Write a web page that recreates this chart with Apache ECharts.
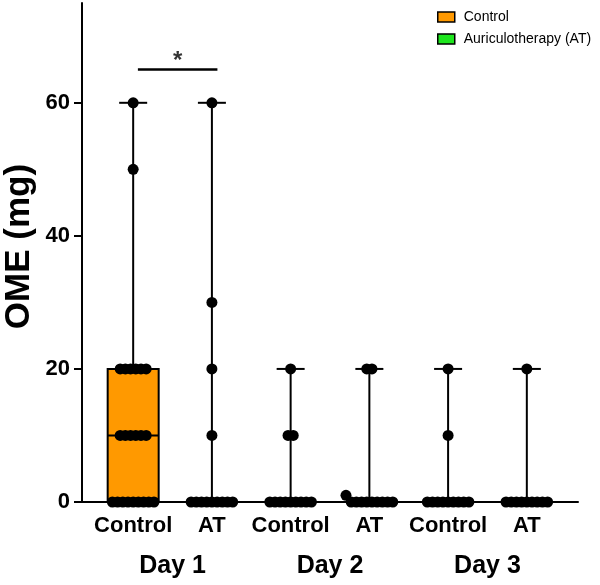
<!DOCTYPE html>
<html>
<head>
<meta charset="utf-8">
<script src="https://cdn.jsdelivr.net/npm/echarts@6/dist/echarts.min.js"></script>
<style>
  html, body { margin: 0; padding: 0; background: #fff; }
  #main { width: 600px; height: 585px; }
</style>
</head>
<body>
<div id="main"></div>
<script>
var groupLabels = ['Control', 'AT', 'Control', 'AT', 'Control', 'AT'];
var dayLabels = ['Day 1', 'Day 2', 'Day 3'];
var yTicks = [0, 20, 40, 60];

// individual values per group
var d1Control = [60, 50, 20, 20, 20, 20, 20, 20, 10, 10, 10, 10, 10, 10, 0, 0, 0, 0, 0, 0, 0, 0, 0];
var d1AT = [60, 30, 20, 10, 0, 0, 0, 0, 0, 0, 0, 0, 0];
var d2Control = [20, 10, 10, 0, 0, 0, 0, 0, 0, 0, 0, 0];
var d2AT = [20, 20, 1, 0, 0, 0, 0, 0, 0, 0, 0, 0];
var d3Control = [20, 10, 0, 0, 0, 0, 0, 0, 0, 0, 0];
var d3AT = [20, 0, 0, 0, 0, 0, 0, 0, 0, 0];
var groupValues = [d1Control, d1AT, d2Control, d2AT, d3Control, d3AT];

// box stats: min, q1, median, q3, max
var boxMin = [0, 0, 0, 0, 0, 0];
var boxQ1 = [0, 0, 0, 0, 0, 0];
var boxMedian = [10, 0, 0, 0, 0, 0];
var boxQ3 = [20, 0, 0, 0, 0, 0];
var boxMax = [60, 60, 20, 20, 20, 20];

// significance bar between Day 1 groups
var sigLine = [[0.06, 65], [1.07, 65]];
var sigLabel = '*';

var font = '"Liberation Sans", Arial, Helvetica, sans-serif';
var orange = '#ff9900';
var green = '#1ee61e';

var controlBoxes = [], atBoxes = [];
for (var i = 0; i < groupLabels.length; i++) {
    var row = [i, boxMin[i], boxQ1[i], boxMedian[i], boxQ3[i], boxMax[i]];
    if (i % 2 === 0) controlBoxes.push(row); else atBoxes.push(row);
}

// simple swarm: spread points of similar value sideways
var step = 0.066;
var dots = [];
groupValues.forEach(function (vals, gi) {
    var rows = {};
    vals.forEach(function (v) {
        var k = Math.round(v / 3);
        (rows[k] = rows[k] || []).push(v);
    });
    Object.keys(rows).forEach(function (k) {
        var r = rows[k].slice().sort(function (a, b) { return b - a; });
        r.forEach(function (v, j) {
            dots.push([gi + (j - (r.length - 1) / 2) * step, v]);
        });
    });
});

function renderBox(color) {
    return function (params, api) {
        var x = api.value(0);
        var mn = api.coord([x, api.value(1)]);
        var q1 = api.coord([x, api.value(2)]);
        var md = api.coord([x, api.value(3)]);
        var q3 = api.coord([x, api.value(4)]);
        var mx = api.coord([x, api.value(5)]);
        var hw = 25.5, cw = 14;
        var ls = { stroke: '#000', lineWidth: 2 };
        var children = [];
        if (q1[1] - q3[1] > 0.5) {
            children.push({ type: 'rect', shape: { x: q3[0] - hw, y: q3[1], width: hw * 2, height: q1[1] - q3[1] },
                style: { fill: color, stroke: '#000', lineWidth: 2 } });
            children.push({ type: 'line', shape: { x1: md[0] - hw, y1: md[1], x2: md[0] + hw, y2: md[1] }, style: ls });
        }
        children.push({ type: 'line', shape: { x1: q3[0], y1: q3[1], x2: mx[0], y2: mx[1] }, style: ls });
        children.push({ type: 'line', shape: { x1: mn[0], y1: mn[1], x2: q1[0], y2: q1[1] }, style: ls });
        children.push({ type: 'line', shape: { x1: mx[0] - cw, y1: mx[1], x2: mx[0] + cw, y2: mx[1] }, style: ls });
        return { type: 'group', children: children };
    };
}

var myChart = echarts.init(document.getElementById('main'));

var option = {
    animation: false,
    textStyle: { fontFamily: font },
    grid: { left: 82, right: 22, top: 3, bottom: 83, containLabel: false, outerBoundsMode: 'none' },
    legend: {
        orient: 'vertical',
        left: 432,
        top: 5,
        itemWidth: 17,
        itemHeight: 10,
        itemGap: 8,
        textStyle: { fontSize: 14, color: '#000', fontFamily: font, padding: [0, 0, 0, 4] },
        data: [
            { name: 'Control', icon: 'rect', itemStyle: { color: orange, borderColor: '#000', borderWidth: 1.5 } },
            { name: 'Auriculotherapy (AT)', icon: 'rect', itemStyle: { color: green, borderColor: '#000', borderWidth: 1.5 } }
        ]
    },
    xAxis: [
        {
            type: 'value',
            min: -0.65,
            max: 5.65,
            splitLine: { show: false },
            axisLine: { lineStyle: { color: '#000', width: 2 } },
            axisTick: { show: true, length: 4, customValues: [0, 1, 2, 3, 4, 5], lineStyle: { color: '#000', width: 2 } },
            axisLabel: {
                customValues: [0, 1, 2, 3, 4, 5],
                formatter: function (v) { return groupLabels[Math.round(v)]; },
                fontSize: 22, fontWeight: 'bold', color: '#000', margin: 13
            }
        },
        {
            type: 'value',
            position: 'bottom',
            min: -0.65,
            max: 5.65,
            offset: 40,
            splitLine: { show: false },
            axisLine: { show: false },
            axisTick: { show: false },
            axisLabel: {
                customValues: [0.5, 2.5, 4.5],
                formatter: function (v) { return dayLabels[Math.round((v - 0.5) / 2)]; },
                fontSize: 25, fontWeight: 'bold', color: '#000', margin: 12
            }
        }
    ],
    yAxis: {
        type: 'value',
        min: 0,
        max: 75,
        name: 'OME (mg)',
        nameLocation: 'middle',
        nameGap: 45,
        nameMoveOverlap: false,
        nameTextStyle: { fontSize: 35, fontWeight: 'bold', color: '#000', fontFamily: font, padding: [0, 0, 0, 12] },
        splitLine: { show: false },
        axisLine: { show: true, onZero: false, lineStyle: { color: '#000', width: 2 } },
        axisTick: { show: true, length: 8, customValues: yTicks, lineStyle: { color: '#000', width: 2 } },
        axisLabel: { customValues: yTicks, fontSize: 22, fontWeight: 'bold', color: '#000', margin: 12 }
    },
    series: [
        {
            name: 'Control',
            type: 'custom',
            itemStyle: { color: orange },
            encode: { x: 0, y: [1, 2, 3, 4, 5] },
            renderItem: renderBox(orange),
            data: controlBoxes,
            z: 1
        },
        {
            name: 'Auriculotherapy (AT)',
            type: 'custom',
            itemStyle: { color: green },
            encode: { x: 0, y: [1, 2, 3, 4, 5] },
            renderItem: renderBox(green),
            data: atBoxes,
            z: 1
        },
        {
            name: 'points',
            type: 'scatter',
            symbol: 'circle',
            symbolSize: 11,
            itemStyle: { color: '#000', opacity: 1 },
            data: dots,
            z: 3
        },
        {
            name: 'sig',
            type: 'line',
            symbol: 'none',
            lineStyle: { color: '#000', width: 2.5 },
            data: sigLine,
            z: 3
        },
        {
            name: 'sigStar',
            type: 'scatter',
            symbolSize: 0,
            data: [[(sigLine[0][0] + sigLine[1][0]) / 2, sigLine[0][1]]],
            label: { show: true, position: 'top', distance: -4, formatter: sigLabel, fontSize: 24, fontWeight: 'bold', color: '#000' },
            z: 3
        }
    ]
};

myChart.setOption(option);
</script>
</body>
</html>
